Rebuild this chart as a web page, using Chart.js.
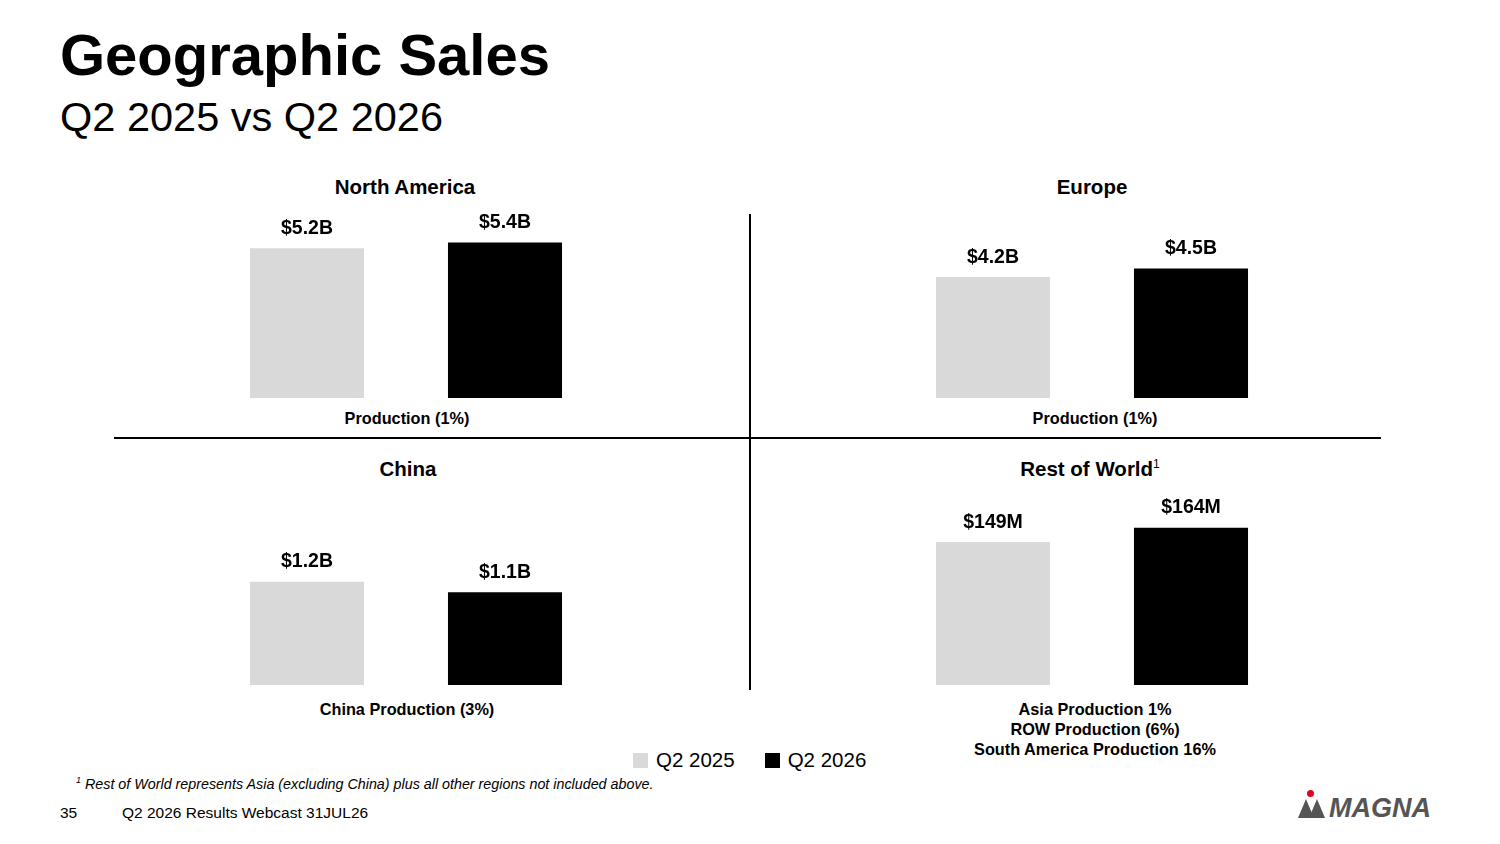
<!DOCTYPE html>
<html><head><meta charset="utf-8">
<script src="https://cdn.jsdelivr.net/npm/chart.js@4/dist/chart.umd.min.js"></script>
<style>
body{margin:0;width:1500px;height:844px;background:#fff;font-family:"Liberation Sans",Arial,sans-serif;position:relative;overflow:hidden;color:#000}
.abs{position:absolute}
.t{font-weight:bold;font-size:20.5px;text-align:center;width:500px}
.s{font-weight:bold;font-size:16.3px;text-align:center;width:500px;line-height:20px}
canvas{position:absolute}
</style></head><body>
<div class="abs" style="left:60px;top:21px;font-size:58px;font-weight:bold">Geographic Sales</div>
<div class="abs" style="left:60px;top:93px;font-size:41.5px">Q2 2025 vs Q2 2026</div>

<div class="abs t" style="left:155px;top:175px">North America</div>
<div class="abs t" style="left:842px;top:175px">Europe</div>
<div class="abs t" style="left:158px;top:457px">China</div>
<div class="abs t" style="left:840px;top:457px">Rest of World<sup style="font-size:12px;font-weight:normal">1</sup></div>

<div class="abs s" style="left:157px;top:408px">Production (1%)</div>
<div class="abs s" style="left:845px;top:408px">Production (1%)</div>
<div class="abs s" style="left:157px;top:699px">China Production (3%)</div>
<div class="abs s" style="left:845px;top:699px">Asia Production 1%<br>ROW Production (6%)<br>South America Production 16%</div>

<div class="abs" style="left:749px;top:214px;width:2px;height:476px;background:#000"></div>
<div class="abs" style="left:114px;top:437px;width:1267px;height:2px;background:#000"></div>

<div class="abs" style="left:633px;top:748px;font-size:20.5px;display:flex;align-items:center">
<span style="display:inline-block;width:15px;height:15px;background:#d9d9d9;margin-right:8px"></span>Q2 2025
<span style="display:inline-block;width:15px;height:15px;background:#000;margin:0 8px 0 30px"></span>Q2 2026</div>

<div class="abs" style="left:76px;top:775px;font-size:14.3px;font-style:italic"><sup style="font-size:9px">1</sup> Rest of World represents Asia (excluding China) plus all other regions not included above.</div>
<div class="abs" style="left:60px;top:804px;font-size:15.5px">35</div>
<div class="abs" style="left:122px;top:804px;font-size:15.5px">Q2 2026 Results Webcast 31JUL26</div>
<div class="abs" style="left:1298px;top:790px;width:30px;height:28px">
<div class="abs" style="left:9px;top:0;width:7px;height:7px;border-radius:50%;background:#e2001a"></div>
<div class="abs" style="left:0;top:9px;width:0;height:0;border-left:8px solid transparent;border-right:8px solid transparent;border-bottom:19px solid #555"></div>
<div class="abs" style="left:11px;top:9px;width:0;height:0;border-left:8px solid transparent;border-right:8px solid transparent;border-bottom:19px solid #555"></div>
</div>
<div class="abs" style="left:1329px;top:793px;font-size:27px;font-weight:bold;font-style:italic;color:#555;letter-spacing:0px">MAGNA</div>

<canvas id="c1" width="396" height="184" style="left:208px;top:214px"></canvas>
<canvas id="c2" width="396" height="184" style="left:894px;top:214px"></canvas>
<canvas id="c3" width="396" height="135" style="left:208px;top:550px"></canvas>
<canvas id="c4" width="396" height="190" style="left:894px;top:495px"></canvas>
<script>
const periods = ["Q2 2025","Q2 2026"];
const northAmerica = [5.2, 5.4];
const europe = [4.2, 4.5];
const china = [1.2, 1.08];
const restOfWorld = [149, 164];
const naLabels = ["$5.2B","$5.4B"];
const euLabels = ["$4.2B","$4.5B"];
const cnLabels = ["$1.2B","$1.1B"];
const rowLabels = ["$149M","$164M"];
const colors = ["#d9d9d9","#000000"];

const labelPlugin = {
  id:'vals',
  afterDatasetsDraw(chart){
    const ctx = chart.ctx, labs = chart.options.plugins.vals.labels;
    chart.getDatasetMeta(0).data.forEach((b,i)=>{
      ctx.save();ctx.font='bold 19.5px "Liberation Sans", Arial';ctx.fillStyle='#000';
      ctx.textAlign='center';ctx.textBaseline='bottom';
      ctx.fillText(labs[i], b.x, b.y-10);ctx.restore();
    });
  }
};
function mk(id,data,max,labs){
  new Chart(document.getElementById(id),{
    type:'bar',
    data:{labels:periods,datasets:[{data:data,backgroundColor:colors,categoryPercentage:1,barPercentage:0.576}]},
    options:{responsive:false,animation:false,layout:{padding:0},
      scales:{x:{display:false},y:{display:false,min:0,max:max}},
      plugins:{legend:{display:false},tooltip:{enabled:false},vals:{labels:labs}}},
    plugins:[labelPlugin]
  });
}
mk('c1',northAmerica,6.39,naLabels);
mk('c2',europe,6.39,euLabels);
mk('c3',china,1.57,cnLabels);
mk('c4',restOfWorld,198,rowLabels);
</script>
</body></html>
